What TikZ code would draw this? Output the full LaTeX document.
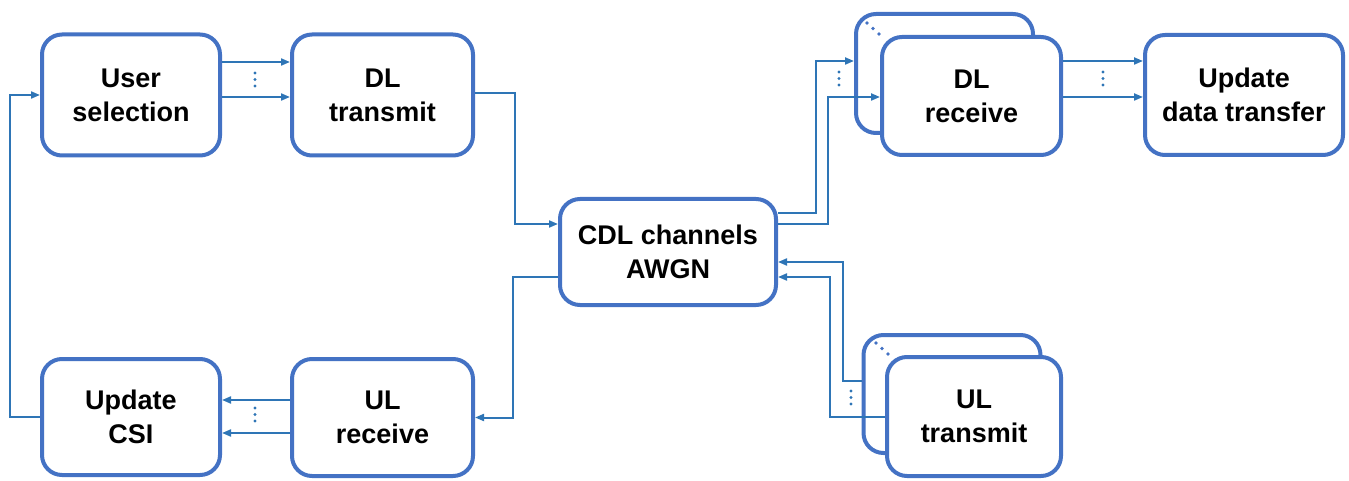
\documentclass[tikz,border=0pt]{standalone}
\usepackage{fontspec}
\setmainfont{Liberation Sans}
\usetikzlibrary{arrows.meta,calc}
\definecolor{boxblue}{HTML}{4472C4}
\definecolor{lineblue}{HTML}{2E75B6}
\begin{document}
\begin{tikzpicture}[x=1pt,y=-1pt,
  blk/.style={draw=boxblue,line width=4pt,rounded corners=20pt,fill=white,align=center,
    font=\fontsize{27}{34}\selectfont\bfseries,inner sep=0pt},
  conn/.style={draw=lineblue,line width=2pt},
  arr/.style={conn,-{Triangle[length=9pt,width=7pt]}}]
\useasboundingbox (0,0) rectangle (1349,481);
% levels
\coordinate (y61) at (0,61);
\coordinate (y62) at (0,62);
\coordinate (y93) at (0,93);
\coordinate (y97) at (0,97);
\coordinate (y213) at (0,213);
\coordinate (y224) at (0,224);
\coordinate (y262) at (0,262);
\coordinate (y277) at (0,277);
\coordinate (y381) at (0,381);
\coordinate (y400) at (0,400);
\coordinate (y417) at (0,417);
\coordinate (y433) at (0,433);
% boxes
\node[blk,minimum width=178pt,minimum height=121pt] (usel) at (131,95) {User\\selection};
\node[blk,minimum width=181pt,minimum height=121pt] (dltx) at (382.5,95) {DL\\transmit};
\node[blk,minimum width=216pt,minimum height=106pt] (cdl) at (668,252) {CDL channels\\AWGN};
\node[blk,minimum width=177pt,minimum height=119pt] (dlrxb) at (944.5,73.5) {};
\node[blk,minimum width=179pt,minimum height=118pt] (dlrx) at (971.5,96) {DL\\receive};
\node[blk,minimum width=198pt,minimum height=120pt] (upd) at (1244,95) {Update\\data transfer};
\node[blk,minimum width=177pt,minimum height=118pt] (ultxb) at (952,394) {};
\node[blk,minimum width=174pt,minimum height=119pt] (ultx) at (974,416.5) {UL\\transmit};
\node[blk,minimum width=181pt,minimum height=117pt] (ulrx) at (382.5,417.5) {UL\\receive};
\node[blk,minimum width=178pt,minimum height=116pt] (csi) at (131,417) {Update\\CSI};
% connectors
\draw[arr] (csi.west) -- ++(-30,0) |- (usel.west);
\draw[arr] (usel.east |- y62) -- (dltx.west |- y62);
\draw[arr] (usel.east |- y97) -- (dltx.west |- y97);
\draw[arr] (dltx.east |- y93) -- ++(40,0) |- (cdl.west |- y224);
\draw[arr] (cdl.west |- y277) -- ++(-45,0) |- (ulrx.east);
\draw[arr] (ulrx.west |- y400) -- (csi.east |- y400);
\draw[arr] (ulrx.west |- y433) -- (csi.east |- y433);
\draw[arr] (cdl.east |- y213) -- ++(38,0) |- (dlrxb.west |- y61);
\draw[arr] (cdl.east |- y224) -- ++(50,0) |- (dlrx.west |- y97);
\draw[arr] (dlrx.east |- y61) -- (upd.west |- y61);
\draw[arr] (dlrx.east |- y97) -- (upd.west |- y97);
\draw[arr] (ultxb.west |- y381) -- ++(-19,0) |- (cdl.east |- y262);
\draw[arr] (ultx.west |- y417) -- ++(-55,0) |- (cdl.east |- y277);
% ellipsis dots
\foreach \x/\ya in {255/73, 1103/72, 255/408, 839/72, 851/391}{
  \foreach \d in {0,6.5,13}{
    \fill[lineblue] (\x,\ya+\d) circle (1.7pt);
  }
}
\foreach \p in {(867,23),(873,28.5),(879,34),(876,343),(882,348.5),(888,354)}{
  \fill[boxblue] \p circle (1.8pt);
}
\end{tikzpicture}
\end{document}
